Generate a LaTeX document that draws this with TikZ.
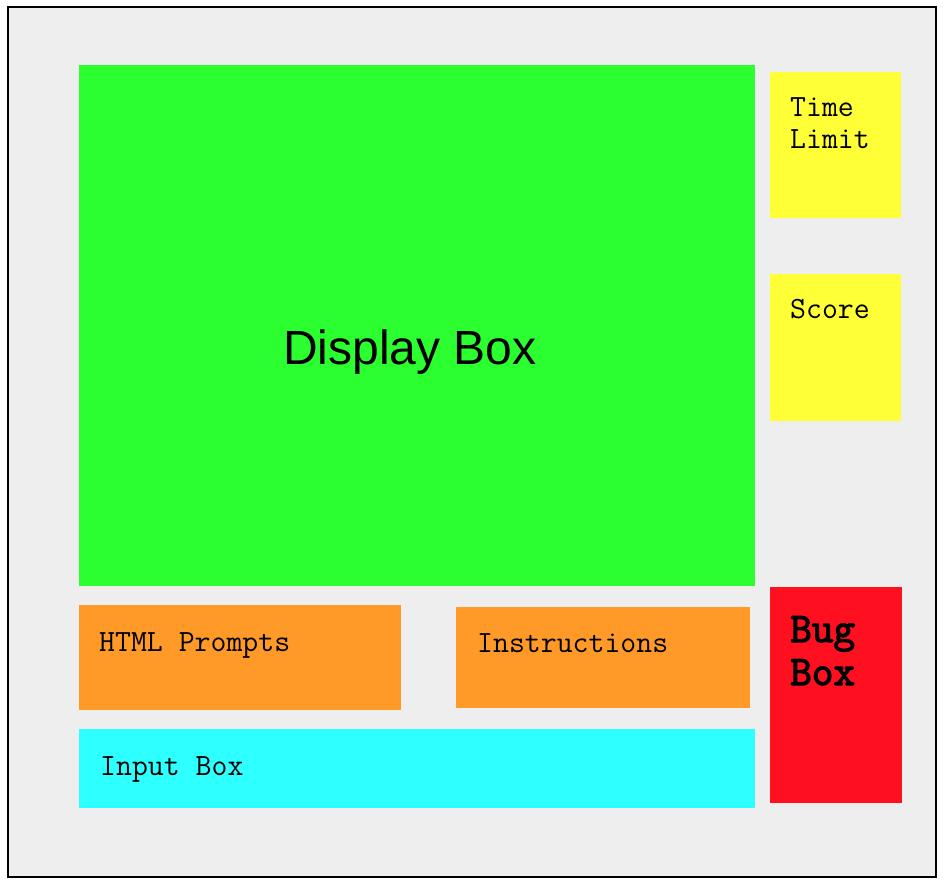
\documentclass[tikz,border=0pt]{standalone}
\usepackage{fontspec}
\newfontfamily\boxsans{Liberation Sans}
\newfontfamily\bugmono[FakeBold=3]{Latin Modern Mono}
\definecolor{panelbg}{RGB}{238,238,238}
\definecolor{dispgreen}{RGB}{43,255,47}
\definecolor{infoyellow}{RGB}{255,255,56}
\definecolor{bugred}{RGB}{255,16,32}
\definecolor{promptorange}{RGB}{255,154,40}
\definecolor{inputcyan}{RGB}{46,255,255}
\tikzset{
  region/.style={draw=none, inner sep=0pt, outer sep=0pt, anchor=north west},
  label mono/.style={inner sep=0pt, anchor=base west, align=left,
    font=\ttfamily\fontsize{30.9}{32}\selectfont},
  label bug/.style={inner sep=0pt, anchor=base west, align=left,
    font=\bugmono\fontsize{42}{43}\selectfont},
}
\begin{document}
\begin{tikzpicture}[x=1pt, y=-1pt]
  \useasboundingbox (0,0) rectangle (944,882);
  % outer panel
  \node[region, fill=panelbg, draw=black, line width=2pt,
        minimum width=928pt, minimum height=870pt] (panel) at (8,7) {};
  % layout regions
  \node[region, fill=dispgreen, minimum width=676pt, minimum height=521pt] (display) at (79,65) {};
  \node[region, fill=infoyellow, minimum width=131pt, minimum height=146pt] (timelimit) at (770,72) {};
  \node[region, fill=infoyellow, minimum width=131pt, minimum height=147pt] (score) at (770,274) {};
  \node[region, fill=bugred, minimum width=132pt, minimum height=216pt] (bugbox) at (770,587) {};
  \node[region, fill=promptorange, minimum width=322pt, minimum height=105pt] (prompts) at (79,605) {};
  \node[region, fill=promptorange, minimum width=294pt, minimum height=101pt] (instructions) at (456,607) {};
  \node[region, fill=inputcyan, minimum width=676pt, minimum height=79pt] (inputbox) at (79,729) {};
  % labels (multi-line nodes sit on the baseline of their last line)
  \node[inner sep=0pt, anchor=base, font=\boxsans\fontsize{48}{56}\selectfont] (displaytext) at (410,364) {Display Box};
  \node[label mono] (timetext) at (790,149) {Time\\Limit};
  \node[label mono] (scoretext) at (790,319) {Score};
  \node[label mono] (promptstext) at (99,651) {HTML Prompts};
  \node[label mono] (instrtext) at (477,652) {Instructions};
  \node[label mono] (inputtext) at (100,775) {Input Box};
  \node[label bug] (bugtext) at (790,685) {Bug\\Box};
\end{tikzpicture}
\end{document}
